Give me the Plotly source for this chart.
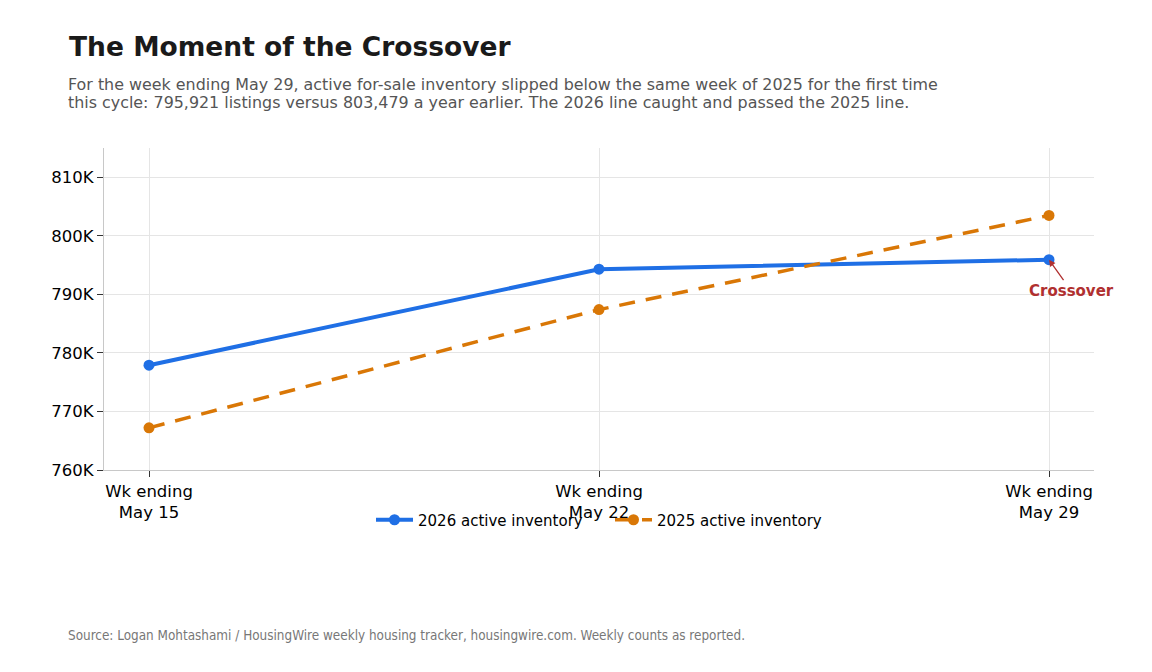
import plotly.graph_objects as go

weeks = ["Wk ending<br>May 15", "Wk ending<br>May 22", "Wk ending<br>May 29"]
inv_2026 = [777900, 794300, 795921]
inv_2025 = [767200, 787400, 803479]
y_ticks = [760000, 770000, 780000, 790000, 800000, 810000]
y_tick_labels = ["760K", "770K", "780K", "790K", "800K", "810K"]

BLUE = "#1f6fe5"
ORANGE = "#d97706"
FONT = "DejaVu Sans"

L, R, T, B = 96, 66, 140, 210
PW = 1152 - L - R
PH = 672 - T - B

fig = go.Figure()
fig.add_trace(go.Scatter(
    x=weeks, y=inv_2026, name="2026 active inventory",
    mode="lines+markers",
    line=dict(color=BLUE, width=4),
    marker=dict(color=BLUE, size=11),
))
fig.add_trace(go.Scatter(
    x=weeks, y=inv_2025, name="2025 active inventory",
    mode="lines+markers",
    line=dict(color=ORANGE, width=3.5, dash="16px,11px"),
    marker=dict(color=ORANGE, size=11),
))

fig.add_annotation(
    x=weeks[2], y=inv_2026[2], xref="x", yref="y",
    text="<b>Crossover</b>", showarrow=True,
    arrowhead=2, arrowsize=1, arrowwidth=1.3, arrowcolor="#b03030",
    ax=22, ay=31,
    font=dict(family=FONT, size=15, color="#b03030"),
)

fig.update_layout(
    width=1152, height=672,
    paper_bgcolor="white", plot_bgcolor="white",
    font=dict(family=FONT, size=15, color="black"),
    margin=dict(l=L, r=R, t=T, b=B),
    title=dict(
        text="<b>The Moment of the Crossover</b>",
        x=61/1152, xanchor="left", xref="container",
        y=1-39/672, yanchor="middle", yref="container",
        font=dict(family=FONT, size=26.5, color="#1a1a1a"),
    ),
    legend=dict(
        orientation="h", x=0.5 + 11/PW, xanchor="center",
        y=-50/PH, yanchor="middle",
        font=dict(family=FONT, size=15, color="black"),
        bgcolor="rgba(0,0,0,0)",
        itemwidth=37,
        entrywidth=187,
    ),
    xaxis=dict(
        range=[-0.1, 2.1],
        showgrid=True, gridcolor="#e5e5e5", gridwidth=1,
        showline=True, linecolor="#c8c8c8", linewidth=1,
        ticks="outside", ticklen=6, tickcolor="#333333",
        tickfont=dict(family=FONT, size=16.5, color="black"),
        zeroline=False,
    ),
    yaxis=dict(
        range=[760000, 815000],
        tickvals=y_ticks, ticktext=y_tick_labels,
        showgrid=True, gridcolor="#e5e5e5", gridwidth=1,
        showline=True, linecolor="#c8c8c8", linewidth=1,
        ticks="outside", ticklen=6, tickcolor="#333333",
        tickfont=dict(family=FONT, size=16.5, color="black"),
        zeroline=False,
    ),
)

subtitle_lines = [
    "For the week ending May 29, active for-sale inventory slipped below the same week of 2025 for the first time",
    "this cycle: 795,921 listings versus 803,479 a year earlier. The 2026 line caught and passed the 2025 line.",
]
for i, line in enumerate(subtitle_lines):
    fig.add_annotation(
        xref="paper", yref="paper",
        x=-(L-58)/PW, y=1+(T-(76+18*i))/PH,
        xanchor="left", yanchor="middle", align="left", showarrow=False,
        text=line,
        font=dict(family=FONT, size=15.9, color="#555555"),
    )
fig.add_annotation(
    xref="paper", yref="paper",
    x=-(L-58)/PW, y=-(627-(T+PH))/PH,
    xanchor="left", yanchor="middle", align="left", showarrow=False,
    text="Source: Logan Mohtashami / HousingWire weekly housing tracker, housingwire.com. Weekly counts as reported.",
    font=dict(family="DejaVu Sans Condensed", size=13.4, color="#777777"),
)

fig.write_html("out.html")
